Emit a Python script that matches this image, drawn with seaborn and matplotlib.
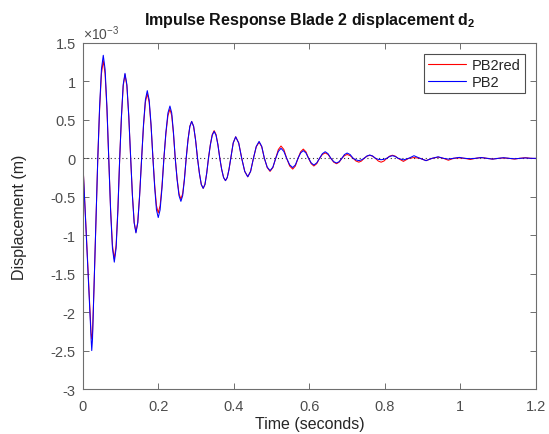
import numpy as np
import pandas as pd
import matplotlib
matplotlib.use("Agg")
import matplotlib.pyplot as plt
import seaborn as sns

# ---- data (displacement in units of 1e-3 m) ----
time_s = [
    0.000, 0.003, 0.008, 0.013, 0.018, 0.021, 0.022, 0.024, 0.026, 0.030, 0.034, 0.037,
    0.040, 0.0448, 0.0497, 0.0545, 0.0593, 0.0642,
    0.069, 0.0739, 0.0788, 0.0837, 0.0885, 0.0932,
    0.098, 0.1027, 0.1073, 0.112, 0.117, 0.122,
    0.127, 0.1317, 0.1363, 0.141, 0.1458, 0.1507,
    0.156, 0.161, 0.166, 0.171, 0.176, 0.181,
    0.186, 0.1907, 0.1953, 0.200, 0.205, 0.210,
    0.215, 0.2203, 0.2257, 0.231, 0.2357, 0.2403,
    0.245, 0.250, 0.255, 0.260, 0.2647, 0.2693,
    0.274, 0.2788, 0.2837, 0.2885, 0.2937, 0.2988,
    0.304, 0.309, 0.314, 0.319, 0.3237, 0.3283,
    0.333, 0.338, 0.343, 0.348, 0.353, 0.358,
    0.363, 0.368, 0.373, 0.378, 0.3827, 0.3873,
    0.392, 0.3985, 0.405, 0.413,
    0.421, 0.429, 0.437, 0.4445,
    0.452, 0.4595, 0.467, 0.474,
    0.481, 0.4885, 0.496, 0.5035,
    0.511, 0.518, 0.525, 0.5325,
    0.540, 0.548, 0.556, 0.563,
    0.570, 0.577, 0.584, 0.591,
    0.598, 0.605, 0.612, 0.6195,
    0.627, 0.6345, 0.642, 0.6495,
    0.657, 0.6645, 0.672, 0.679,
    0.686, 0.693, 0.700, 0.708,
    0.716, 0.7235, 0.731, 0.738,
    0.745, 0.7525, 0.760, 0.7675,
    0.775, 0.7825, 0.790, 0.7975,
    0.805, 0.8125, 0.820, 0.8275,
    0.835, 0.849, 0.863, 0.877, 0.893, 0.909, 0.925, 0.941, 0.955, 0.968,
    0.982, 0.997, 1.011, 1.026, 1.040, 1.055, 1.070, 1.085, 1.100, 1.114,
    1.128, 1.143, 1.157, 1.172, 1.186, 1.200,
]

pb2 = [
    0.0, -0.31, -0.80, -1.34, -1.88, -2.20, -2.32, -2.50, -2.35, -1.68, -0.99, -0.47,
    0.0, 0.67, 1.16, 1.34, 1.16, 0.67,
    0.0, -0.68, -1.17, -1.35, -1.17, -0.68,
    0.0, 0.55, 0.96, 1.105, 0.96, 0.55,
    0.0, -0.49, -0.84, -0.97, -0.84, -0.49,
    0.0, 0.44, 0.76, 0.88, 0.76, 0.44,
    0.0, -0.385, -0.67, -0.77, -0.67, -0.385,
    0.0, 0.34, 0.59, 0.68, 0.59, 0.34,
    0.0, -0.28, -0.485, -0.56, -0.485, -0.28,
    0.0, 0.24, 0.415, 0.48, 0.415, 0.24,
    0.0, -0.195, -0.34, -0.39, -0.34, -0.195,
    0.0, 0.175, 0.30, 0.35, 0.30, 0.175,
    0.0, -0.145, -0.25, -0.29, -0.25, -0.145,
    0.0, 0.20, 0.28, 0.20,
    0.0, -0.17, -0.24, -0.17,
    0.0, 0.155, 0.22, 0.155,
    0.0, -0.115, -0.16, -0.115,
    0.0, 0.09, 0.13, 0.09,
    0.0, -0.085, -0.12, -0.085,
    0.0, 0.07, 0.10, 0.07,
    0.0, -0.06, -0.087, -0.06,
    0.0, 0.06, 0.086, 0.06,
    0.0, -0.043, -0.061, -0.043,
    0.0, 0.049, 0.069, 0.049,
    0.0, -0.02, -0.03, -0.02,
    0.0, 0.03, 0.043, 0.03,
    0.0, -0.013, -0.018, -0.013,
    0.0, 0.024, 0.034, 0.024,
    0.0, -0.02, 0.0, 0.034, 0.0, -0.03, 0.0, 0.02, 0.0, -0.01,
    0.0, 0.012, 0.0, -0.005, 0.0, 0.01, 0.0, -0.01, 0.0, 0.008,
    0.0, -0.006, 0.0, 0.005, 0.0, 0.0,
]

pb2red = [
    0.0, -0.31, -0.80, -1.34, -1.88, -2.15, -2.25, -2.35, -2.28, -1.68, -0.99, -0.47,
    0.0, 0.64, 1.10, 1.27, 1.10, 0.64,
    0.0, -0.66, -1.13, -1.31, -1.13, -0.66,
    0.0, 0.55, 0.94, 1.09, 0.94, 0.55,
    0.0, -0.48, -0.83, -0.96, -0.83, -0.48,
    0.0, 0.42, 0.73, 0.84, 0.73, 0.42,
    0.0, -0.355, -0.615, -0.71, -0.615, -0.355,
    0.0, 0.32, 0.555, 0.64, 0.555, 0.32,
    0.0, -0.265, -0.46, -0.53, -0.46, -0.265,
    0.0, 0.24, 0.415, 0.48, 0.415, 0.24,
    0.0, -0.195, -0.34, -0.39, -0.34, -0.195,
    0.0, 0.18, 0.31, 0.36, 0.31, 0.18,
    0.0, -0.145, -0.25, -0.29, -0.25, -0.145,
    0.0, 0.20, 0.28, 0.20,
    0.0, -0.17, -0.24, -0.17,
    0.0, 0.15, 0.21, 0.15,
    0.0, -0.12, -0.17, -0.12,
    0.0, 0.115, 0.16, 0.115,
    0.0, -0.10, -0.14, -0.10,
    0.0, 0.085, 0.12, 0.085,
    0.0, -0.07, -0.10, -0.07,
    0.0, 0.05, 0.07, 0.05,
    0.0, -0.05, -0.07, -0.05,
    0.0, 0.035, 0.05, 0.035,
    0.0, -0.035, -0.05, -0.035,
    0.0, 0.028, 0.04, 0.028,
    0.0, -0.035, -0.05, -0.035,
    0.0, 0.028, 0.04, 0.028,
    0.0, -0.04, 0.0, 0.01, 0.0, -0.03, 0.0, 0.015, 0.0, -0.025,
    0.0, 0.005, 0.0, -0.015, 0.0, 0.01, 0.0, -0.01, 0.0, 0.005,
    0.0, -0.01, 0.0, 0.008, 0.0, -0.003,
]

series_names = ["PB2red", "PB2"]
series_colors = ["#FF0000", "#0000FF"]
x_ticks = [0, 0.2, 0.4, 0.6, 0.8, 1, 1.2]
y_ticks = [-3, -2.5, -2, -1.5, -1, -0.5, 0, 0.5, 1, 1.5]

df = pd.concat([
    pd.DataFrame({"t": time_s, "d": pb2red, "series": "PB2red"}),
    pd.DataFrame({"t": time_s, "d": pb2, "series": "PB2"}),
])

sns.set_theme(style="white")
plt.rcParams["font.family"] = ["Liberation Sans", "DejaVu Sans"]
plt.rcParams["mathtext.fontset"] = "custom"
plt.rcParams["mathtext.rm"] = "Liberation Sans"
plt.rcParams["mathtext.bf"] = "Liberation Sans:bold"

fig = plt.figure(figsize=(5.49, 4.35), dpi=100)
ax = fig.add_axes([0.1506, 0.1034, 0.9763 - 0.1506, 0.8989 - 0.1034])

ax.axhline(0, color="#333333", lw=0.8, ls=(0, (1, 2.5)), zorder=1)

sns.lineplot(data=df, x="t", y="d", hue="series", hue_order=series_names,
             palette=dict(zip(series_names, series_colors)), sort=False,
             estimator=None, lw=0.75, ax=ax, legend=False, zorder=2)

ax.set_xlim(0, 1.2)
ax.set_ylim(-3, 1.5)
ax.set_xticks(x_ticks)
ax.set_xticklabels([f"{v:g}" for v in x_ticks])
ax.set_yticks(y_ticks)
ax.set_yticklabels([f"{v:g}" for v in y_ticks])

tc = "#262626"
for s in ax.spines.values():
    s.set_visible(True)
    s.set_color("#6e6e6e")
    s.set_linewidth(0.8)
ax.tick_params(direction="in", length=4, width=0.7, color="#6e6e6e",
               labelsize=10.5, labelcolor="#4d4d4d", top=True, right=True,
               bottom=True, left=True)
ax.tick_params(axis="x", pad=7)
ax.tick_params(axis="y", pad=5)

ax.set_xlabel("Time (seconds)", fontsize=11.5, color=tc, labelpad=2)
ax.set_ylabel("Displacement (m)", fontsize=11.5, color=tc, labelpad=17)
ax.set_title(r"Impulse Response Blade 2 displacement d$_\mathbf{2}$",
             fontsize=11.5, fontweight="bold", color="#111111", pad=14)
ax.text(0.0, 1.003, r"$\times10^{-3}$", transform=ax.transAxes, ha="left",
        va="bottom", fontsize=10, color="#4d4d4d")

handles = [plt.Line2D([], [], color=c, lw=0.8) for c in series_colors]
leg = ax.legend(handles, series_names, loc="upper right", fontsize=10.5,
                frameon=True, fancybox=False, edgecolor="#222222",
                bbox_to_anchor=(0.9757, 0.968), borderaxespad=0,
                handlelength=2.6, handletextpad=0.4, labelspacing=0.15,
                borderpad=0.3)
leg.get_frame().set_linewidth(0.8)

fig.savefig("out.png", dpi=100, facecolor="white")
